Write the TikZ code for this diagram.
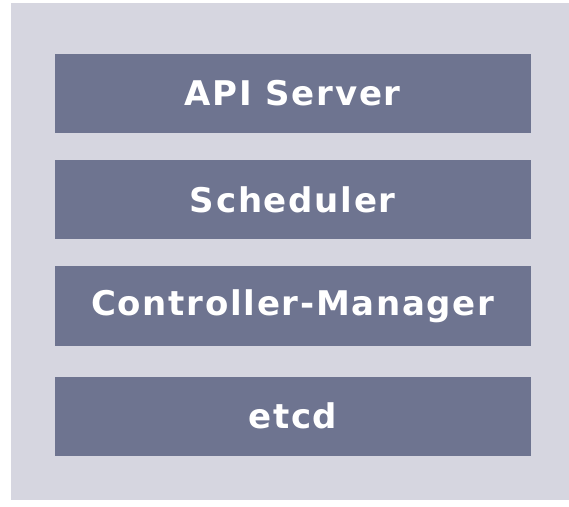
\documentclass[tikz,border=0pt]{standalone}
\usepackage{fontspec}
\setmainfont{DejaVu Sans}[LetterSpace=5]
\definecolor{bgpanel}{HTML}{D6D6E0}
\definecolor{boxfill}{HTML}{6E7490}
\begin{document}
\begin{tikzpicture}[x=1pt,y=1pt,
  layer/.style={fill=boxfill, draw=none, minimum width=475.5pt, minimum height=79pt, inner sep=0pt,
    text=white, font=\fontsize{34}{40}\selectfont\bfseries}]
\useasboundingbox (0,0) rectangle (569,506);
\fill[white] (0,0) rectangle (569,506);
\fill[bgpanel] (11,6) rectangle (569,503);
\node[layer] (api) at (292.75,412.5) {API Server};
\node[layer] (sched) at (292.75,306) {Scheduler};
\node[layer] (cm) at (292.75,200) {Controller-Manager};
\node[layer] (etcd) at (292.75,90) {etcd};
\end{tikzpicture}
\end{document}
